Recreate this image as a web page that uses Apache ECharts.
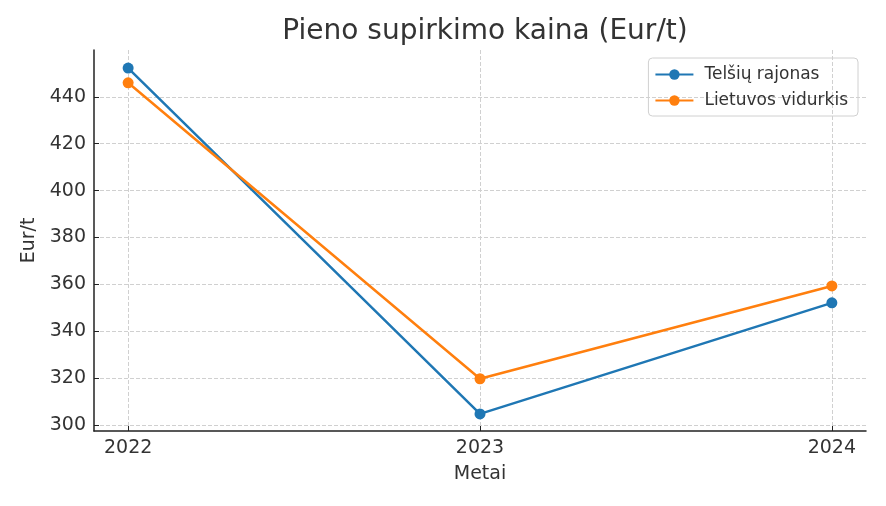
<!DOCTYPE html>
<html>
<head>
<meta charset="utf-8">
<script src="https://cdn.jsdelivr.net/npm/echarts@6/dist/echarts.min.js"></script>
<style>
  html, body { margin: 0; padding: 0; background: #fff; }
  #chart { width: 886px; height: 506px; }
</style>
</head>
<body>
<div id="chart"></div>
<script>
// chart data
const years = [2022, 2023, 2024];
const telsiai = [452.3, 304.7, 352.1];
const lietuva = [446.0, 319.7, 359.3];
const yTicks = [300, 320, 340, 360, 380, 400, 420, 440];

const font = 'DejaVu Sans';
const chart = echarts.init(document.getElementById('chart'));

const option = {
  animation: false,
  textStyle: { fontFamily: font },
  title: {
    text: 'Pieno supirkimo kaina (Eur/t)',
    left: 480,
    textAlign: 'center',
    top: 13,
    textStyle: { fontFamily: font, fontSize: 28, fontWeight: 'normal', color: '#333' }
  },
  legend: {
    right: 28,
    top: 58,
    orient: 'vertical',
    itemWidth: 38,
    itemHeight: 13,
    itemGap: 9,
    padding: [8, 10, 7, 6],
    borderColor: '#d0d0d0',
    borderWidth: 1,
    borderRadius: 4,
    textStyle: { fontFamily: font, fontSize: 17, color: '#333', padding: [0, 0, 0, 6] },
    data: ['Telšių rajonas', 'Lietuvos vidurkis']
  },
  grid: { left: 94, right: 20, top: 50, bottom: 75 },
  xAxis: {
    type: 'value',
    min: 2021.903,
    max: 2024.097,
    name: 'Metai',
    nameLocation: 'middle',
    nameGap: 34,
    nameTextStyle: { fontFamily: font, fontSize: 19, color: '#333' },
    axisLine: { lineStyle: { color: '#222', width: 1.5 } },
    axisTick: { inside: true, length: 5, customValues: years, lineStyle: { color: '#222' } },
    axisLabel: { customValues: years, fontSize: 19, color: '#333', margin: 8, formatter: v => String(v) },
    splitLine: { show: true, lineStyle: { type: 'dashed', color: '#d0d0d0' } }
  },
  yAxis: {
    type: 'value',
    min: 297.4,
    max: 460,
    name: 'Eur/t',
    nameLocation: 'middle',
    nameGap: 54,
    nameTextStyle: { fontFamily: font, fontSize: 19, color: '#333' },
    axisLine: { show: true, lineStyle: { color: '#222', width: 1.5 } },
    axisTick: { show: true, inside: true, length: 5, customValues: yTicks, lineStyle: { color: '#222' } },
    axisLabel: { customValues: yTicks, fontSize: 19, color: '#333', margin: 8 },
    splitLine: { show: true, lineStyle: { type: 'dashed', color: '#d0d0d0' } }
  },
  series: [
    {
      name: 'Telšių rajonas',
      type: 'line',
      data: years.map((y, i) => [y, telsiai[i]]),
      symbol: 'circle',
      symbolSize: 11,
      itemStyle: { color: '#1f77b4' },
      lineStyle: { color: '#1f77b4', width: 2.5 }
    },
    {
      name: 'Lietuvos vidurkis',
      type: 'line',
      data: years.map((y, i) => [y, lietuva[i]]),
      symbol: 'circle',
      symbolSize: 11,
      itemStyle: { color: '#ff7f0e' },
      lineStyle: { color: '#ff7f0e', width: 2.5 }
    }
  ]
};

chart.setOption(option);
</script>
</body>
</html>
